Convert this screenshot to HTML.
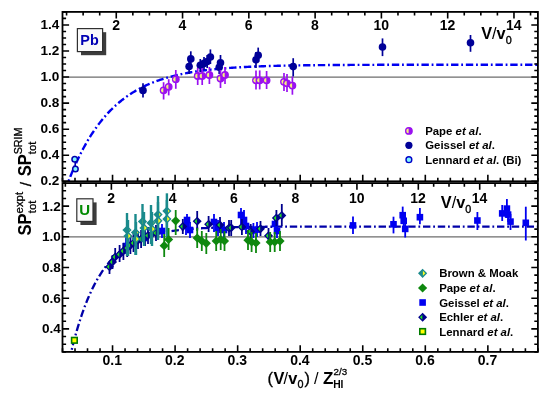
<!DOCTYPE html>
<html><head><meta charset="utf-8"><style>html,body{margin:0;padding:0;background:#fff;}svg{display:block;}</style></head>
<body>
<svg width="550" height="395" viewBox="0 0 550 395">
<rect width="550" height="395" fill="#fff"/>
<defs><clipPath id="ct"><rect x="62.5" y="11.9" width="475.4" height="169.4"/></clipPath><clipPath id="cb"><rect x="62.5" y="183.1" width="475.4" height="168.8"/></clipPath></defs>
<line x1="62.5" x2="537.9" y1="77.05" y2="77.05" stroke="#6c6c6c" stroke-width="1.15"/>
<line x1="62.5" x2="537.9" y1="236.81" y2="236.81" stroke="#6c6c6c" stroke-width="1.15"/>
<path d="M65.00,190.67 L65.95,188.04 L66.90,185.46 L67.85,182.94 L68.79,180.47 L69.74,178.05 L70.69,175.68 L71.64,173.36 L72.58,171.09 L73.53,168.87 L74.48,166.69 L75.43,164.56 L76.37,162.48 L77.32,160.43 L78.27,158.43 L79.22,156.48 L80.17,154.56 L81.11,152.68 L82.06,150.84 L83.01,149.04 L83.96,147.28 L84.90,145.56 L85.85,143.87 L86.80,142.21 L87.75,140.59 L88.69,139.01 L89.64,137.46 L90.59,135.94 L91.54,134.45 L92.49,132.99 L93.43,131.56 L94.38,130.17 L95.33,128.80 L96.28,127.46 L97.22,126.15 L98.17,124.87 L99.12,123.61 L100.07,122.38 L101.01,121.17 L101.96,119.99 L102.91,118.84 L103.86,117.71 L104.81,116.60 L105.75,115.52 L106.70,114.45 L107.65,113.42 L108.60,112.40 L109.54,111.40 L110.49,110.43 L111.44,109.47 L112.39,108.54 L113.33,107.62 L114.28,106.72 L115.23,105.85 L116.18,104.99 L117.13,104.14 L118.07,103.32 L119.02,102.51 L119.97,101.72 L120.92,100.95 L121.86,100.19 L122.81,99.45 L123.76,98.73 L124.71,98.02 L125.65,97.32 L126.60,96.64 L127.55,95.97 L128.50,95.32 L129.45,94.68 L130.39,94.05 L131.34,93.44 L132.29,92.84 L133.24,92.25 L134.18,91.68 L135.13,91.11 L136.08,90.56 L137.03,90.02 L137.97,89.49 L138.92,88.97 L139.87,88.47 L140.82,87.97 L141.77,87.48 L142.71,87.01 L143.66,86.54 L144.61,86.09 L145.56,85.64 L146.50,85.20 L147.45,84.77 L148.40,84.35 L149.35,83.94 L150.29,83.54 L151.24,83.15 L152.19,82.76 L153.14,82.39 L154.09,82.02 L155.03,81.65 L155.98,81.30 L156.93,80.95 L157.88,80.61 L158.82,80.28 L159.77,79.96 L160.72,79.64 L161.67,79.33 L162.61,79.02 L163.56,78.72 L164.51,78.43 L165.46,78.14 L166.41,77.86 L167.35,77.59 L168.30,77.32 L169.25,77.05 L170.20,76.80 L171.14,76.54 L172.09,76.30 L173.04,76.05 L173.99,75.82 L174.93,75.58 L175.88,75.36 L176.83,75.13 L177.78,74.92 L178.73,74.70 L179.67,74.49 L180.62,74.29 L181.57,74.09 L182.52,73.89 L183.46,73.70 L184.41,73.51 L185.36,73.33 L186.31,73.15 L187.25,72.97 L188.20,72.80 L189.15,72.63 L190.10,72.47 L191.05,72.30 L191.99,72.15 L192.94,71.99 L193.89,71.84 L194.84,71.69 L195.78,71.54 L196.73,71.40 L197.68,71.26 L198.63,71.12 L199.57,70.99 L200.52,70.86 L201.47,70.73 L202.42,70.60 L203.37,70.48 L204.31,70.36 L205.26,70.24 L206.21,70.13 L207.16,70.01 L208.10,69.90 L209.05,69.79 L210.00,69.69 L210.95,69.58 L211.89,69.48 L212.84,69.38 L213.79,69.28 L214.74,69.19 L215.69,69.09 L216.63,69.00 L217.58,68.91 L218.53,68.82 L219.48,68.74 L220.42,68.65 L221.37,68.57 L222.32,68.49 L223.27,68.41 L224.21,68.33 L225.16,68.26 L226.11,68.18 L227.06,68.11 L228.00,68.04 L228.95,67.97 L229.90,67.90 L230.85,67.84 L231.80,67.77 L232.74,67.71 L233.69,67.64 L234.64,67.58 L235.59,67.52 L236.53,67.46 L237.48,67.41 L238.43,67.35 L239.38,67.29 L240.32,67.24 L241.27,67.19 L242.22,67.14 L243.17,67.08 L244.12,67.04 L245.06,66.99 L246.01,66.94 L246.96,66.89 L247.91,66.85 L248.85,66.80 L249.80,66.76 L250.75,66.72 L251.70,66.67 L252.64,66.63 L253.59,66.59 L254.54,66.55 L255.49,66.51 L256.44,66.48 L257.38,66.44 L258.33,66.40 L259.28,66.37 L260.23,66.33 L261.17,66.30 L262.12,66.27 L263.07,66.23 L264.02,66.20 L264.96,66.17 L265.91,66.14 L266.86,66.11 L267.81,66.08 L268.76,66.05 L269.70,66.02 L270.65,66.00 L271.60,65.97 L272.55,65.94 L273.49,65.92 L274.44,65.89 L275.39,65.87 L276.34,65.84 L277.28,65.82 L278.23,65.80 L279.18,65.77 L280.13,65.75 L281.08,65.73 L282.02,65.71 L282.97,65.69 L283.92,65.67 L284.87,65.65 L285.81,65.63 L286.76,65.61 L287.71,65.59 L288.66,65.57 L289.60,65.55 L290.55,65.53 L291.50,65.52 L292.45,65.50 L293.40,65.48 L294.34,65.47 L295.29,65.45 L296.24,65.44 L297.19,65.42 L298.13,65.41 L299.08,65.39 L300.03,65.38 L300.98,65.36 L301.92,65.35 L302.87,65.33 L303.82,65.32 L304.77,65.31 L305.72,65.30 L306.66,65.28 L307.61,65.27 L308.56,65.26 L309.51,65.25 L310.45,65.24 L311.40,65.23 L312.35,65.22 L313.30,65.20 L314.24,65.19 L315.19,65.18 L316.14,65.17 L317.09,65.16 L318.04,65.15 L318.98,65.15 L319.93,65.14 L320.88,65.13 L321.83,65.12 L322.77,65.11 L323.72,65.10 L324.67,65.09 L325.62,65.08 L326.56,65.08 L327.51,65.07 L328.46,65.06 L329.41,65.05 L330.36,65.05 L331.30,65.04 L332.25,65.03 L333.20,65.03 L334.15,65.02 L335.09,65.01 L336.04,65.01 L336.99,65.00 L337.94,64.99 L338.88,64.99 L339.83,64.98 L340.78,64.98 L341.73,64.97 L342.68,64.97 L343.62,64.96 L344.57,64.95 L345.52,64.95 L346.47,64.94 L347.41,64.94 L348.36,64.93 L349.31,64.93 L350.26,64.92 L351.20,64.92 L352.15,64.92 L353.10,64.91 L354.05,64.91 L355.00,64.90 L355.94,64.90 L356.89,64.89 L357.84,64.89 L358.79,64.89 L359.73,64.88 L360.68,64.88 L361.63,64.88 L362.58,64.87 L363.52,64.87 L364.47,64.87 L365.42,64.86 L366.37,64.86 L367.32,64.86 L368.26,64.85 L369.21,64.85 L370.16,64.85 L371.11,64.84 L372.05,64.84 L373.00,64.84 L373.95,64.84 L374.90,64.83 L375.84,64.83 L376.79,64.83 L377.74,64.82 L378.69,64.82 L379.64,64.82 L380.58,64.82 L381.53,64.81 L382.48,64.81 L383.43,64.81 L384.37,64.81 L385.32,64.81 L386.27,64.80 L387.22,64.80 L388.16,64.80 L389.11,64.80 L390.06,64.80 L391.01,64.79 L391.96,64.79 L392.90,64.79 L393.85,64.79 L394.80,64.79 L395.75,64.79 L396.69,64.78 L397.64,64.78 L398.59,64.78 L399.54,64.78 L400.48,64.78 L401.43,64.78 L402.38,64.77 L403.33,64.77 L404.28,64.77 L405.22,64.77 L406.17,64.77 L407.12,64.77 L408.07,64.77 L409.01,64.77 L409.96,64.76 L410.91,64.76 L411.86,64.76 L412.80,64.76 L413.75,64.76 L414.70,64.76 L415.65,64.76 L416.60,64.76 L417.54,64.75 L418.49,64.75 L419.44,64.75 L420.39,64.75 L421.33,64.75 L422.28,64.75 L423.23,64.75 L424.18,64.75 L425.12,64.75 L426.07,64.75 L427.02,64.75 L427.97,64.74 L428.92,64.74 L429.86,64.74 L430.81,64.74 L431.76,64.74 L432.71,64.74 L433.65,64.74 L434.60,64.74 L435.55,64.74 L436.50,64.74 L437.44,64.74 L438.39,64.74 L439.34,64.74 L440.29,64.74 L441.24,64.73 L442.18,64.73 L443.13,64.73 L444.08,64.73 L445.03,64.73 L445.97,64.73 L446.92,64.73 L447.87,64.73 L448.82,64.73 L449.76,64.73 L450.71,64.73 L451.66,64.73 L452.61,64.73 L453.56,64.73 L454.50,64.73 L455.45,64.73 L456.40,64.73 L457.35,64.73 L458.29,64.73 L459.24,64.73 L460.19,64.72 L461.14,64.72 L462.08,64.72 L463.03,64.72 L463.98,64.72 L464.93,64.72 L465.88,64.72 L466.82,64.72 L467.77,64.72 L468.72,64.72 L469.67,64.72 L470.61,64.72 L471.56,64.72 L472.51,64.72 L473.46,64.72 L474.40,64.72 L475.35,64.72 L476.30,64.72 L477.25,64.72 L478.20,64.72 L479.14,64.72 L480.09,64.72 L481.04,64.72 L481.99,64.72 L482.93,64.72 L483.88,64.72 L484.83,64.72 L485.78,64.72 L486.72,64.72 L487.67,64.72 L488.62,64.72 L489.57,64.72 L490.52,64.72 L491.46,64.72 L492.41,64.72 L493.36,64.71 L494.31,64.71 L495.25,64.71 L496.20,64.71 L497.15,64.71 L498.10,64.71 L499.04,64.71 L499.99,64.71 L500.94,64.71 L501.89,64.71 L502.84,64.71 L503.78,64.71 L504.73,64.71 L505.68,64.71 L506.63,64.71 L507.57,64.71 L508.52,64.71 L509.47,64.71 L510.42,64.71 L511.36,64.71 L512.31,64.71 L513.26,64.71 L514.21,64.71 L515.16,64.71 L516.10,64.71 L517.05,64.71 L518.00,64.71 L518.95,64.71 L519.89,64.71 L520.84,64.71 L521.79,64.71 L522.74,64.71 L523.68,64.71 L524.63,64.71 L525.58,64.71 L526.53,64.71 L527.48,64.71 L528.42,64.71 L529.37,64.71 L530.32,64.71 L531.27,64.71 L532.21,64.71 L533.16,64.71 L534.11,64.71 L535.06,64.71 L536.00,64.71 L536.95,64.71 L537.90,64.71" fill="none" stroke="#0000f0" stroke-width="2.4" stroke-dasharray="7.4,2.8,1.8,2.8" clip-path="url(#ct)"/>
<path d="M69.38,359.63 L70.32,355.56 L71.26,351.61 L72.20,347.78 L73.14,344.08 L74.08,340.48 L75.01,336.99 L75.95,333.61 L76.89,330.34 L77.83,327.16 L78.77,324.08 L79.71,321.10 L80.65,318.21 L81.59,315.40 L82.53,312.68 L83.46,310.05 L84.40,307.49 L85.34,305.02 L86.28,302.62 L87.22,300.29 L88.16,298.03 L89.10,295.85 L90.04,293.73 L90.98,291.67 L91.91,289.68 L92.85,287.75 L93.79,285.88 L94.73,284.06 L95.67,282.30 L96.61,280.60 L97.55,278.94 L98.49,277.34 L99.43,275.79 L100.37,274.28 L101.30,272.82 L102.24,271.40 L103.18,270.03 L104.12,268.70 L105.06,267.41 L106.00,266.16 L106.94,264.95 L107.88,263.78 L108.82,262.64 L109.75,261.53 L110.69,260.46 L111.63,259.43 L112.57,258.42 L113.51,257.45 L114.45,256.50 L115.39,255.59 L116.33,254.70 L117.27,253.84 L118.20,253.00 L119.14,252.19 L120.08,251.41 L121.02,250.65 L121.96,249.91 L122.90,249.20 L123.84,248.51 L124.78,247.83 L125.72,247.18 L126.65,246.55 L127.59,245.94 L128.53,245.35 L129.47,244.77 L130.41,244.22 L131.35,243.68 L132.29,243.15 L133.23,242.65 L134.17,242.15 L135.10,241.68 L136.04,241.21 L136.98,240.77 L137.92,240.33 L138.86,239.91 L139.80,239.50 L140.74,239.11 L141.68,238.72 L142.62,238.35 L143.56,237.99 L144.49,237.64 L145.43,237.30 L146.37,236.97 L147.31,236.66 L148.25,236.35 L149.19,236.05 L150.13,235.76 L151.07,235.48 L152.01,235.20 L152.94,234.94 L153.88,234.68 L154.82,234.44 L155.76,234.19 L156.70,233.96 L157.64,233.74 L158.58,233.52 L159.52,233.30 L160.46,233.10 L161.39,232.90 L162.33,232.70 L163.27,232.52 L164.21,232.33 L165.15,232.16 L166.09,231.99 L167.03,231.82 L167.97,231.66 L168.91,231.50 L169.84,231.35 L170.78,231.21 L171.72,231.07 L172.66,230.93 L173.60,230.79 L174.54,230.67 L175.48,230.54 L176.42,230.42 L177.36,230.30 L178.30,230.19 L179.23,230.08 L180.17,229.97 L181.11,229.86 L182.05,229.76 L182.99,229.67 L183.93,229.57 L184.87,229.48 L185.81,229.39 L186.75,229.30 L187.68,229.22 L188.62,229.14 L189.56,229.06 L190.50,228.98 L191.44,228.91 L192.38,228.84 L193.32,228.77 L194.26,228.70 L195.20,228.64 L196.13,228.57 L197.07,228.51 L198.01,228.45 L198.95,228.40 L199.89,228.34 L200.83,228.29 L201.77,228.23 L202.71,228.18 L203.65,228.13 L204.58,228.08 L205.52,228.04 L206.46,227.99 L207.40,227.95 L208.34,227.91 L209.28,227.87 L210.22,227.83 L211.16,227.79 L212.10,227.75 L213.03,227.72 L213.97,227.68 L214.91,227.65 L215.85,227.61 L216.79,227.58 L217.73,227.55 L218.67,227.52 L219.61,227.49 L220.55,227.46 L221.49,227.44 L222.42,227.41 L223.36,227.38 L224.30,227.36 L225.24,227.33 L226.18,227.31 L227.12,227.29 L228.06,227.27 L229.00,227.25 L229.94,227.22 L230.87,227.20 L231.81,227.18 L232.75,227.17 L233.69,227.15 L234.63,227.13 L235.57,227.11 L236.51,227.10 L237.45,227.08 L238.39,227.06 L239.32,227.05 L240.26,227.03 L241.20,227.02 L242.14,227.01 L243.08,226.99 L244.02,226.98 L244.96,226.97 L245.90,226.96 L246.84,226.94 L247.77,226.93 L248.71,226.92 L249.65,226.91 L250.59,226.90 L251.53,226.89 L252.47,226.88 L253.41,226.87 L254.35,226.86 L255.29,226.85 L256.23,226.84 L257.16,226.84 L258.10,226.83 L259.04,226.82 L259.98,226.81 L260.92,226.80 L261.86,226.80 L262.80,226.79 L263.74,226.78 L264.68,226.78 L265.61,226.77 L266.55,226.76 L267.49,226.76 L268.43,226.75 L269.37,226.75 L270.31,226.74 L271.25,226.74 L272.19,226.73 L273.13,226.73 L274.06,226.72 L275.00,226.72 L275.94,226.71 L276.88,226.71 L277.82,226.70 L278.76,226.70 L279.70,226.70 L280.64,226.69 L281.58,226.69 L282.51,226.68 L283.45,226.68 L284.39,226.68 L285.33,226.67 L286.27,226.67 L287.21,226.67 L288.15,226.67 L289.09,226.66 L290.03,226.66 L290.97,226.66 L291.90,226.65 L292.84,226.65 L293.78,226.65 L294.72,226.65 L295.66,226.64 L296.60,226.64 L297.54,226.64 L298.48,226.64 L299.42,226.64 L300.35,226.63 L301.29,226.63 L302.23,226.63 L303.17,226.63 L304.11,226.63 L305.05,226.62 L305.99,226.62 L306.93,226.62 L307.87,226.62 L308.80,226.62 L309.74,226.62 L310.68,226.62 L311.62,226.61 L312.56,226.61 L313.50,226.61 L314.44,226.61 L315.38,226.61 L316.32,226.61 L317.25,226.61 L318.19,226.61 L319.13,226.60 L320.07,226.60 L321.01,226.60 L321.95,226.60 L322.89,226.60 L323.83,226.60 L324.77,226.60 L325.70,226.60 L326.64,226.60 L327.58,226.60 L328.52,226.60 L329.46,226.59 L330.40,226.59 L331.34,226.59 L332.28,226.59 L333.22,226.59 L334.16,226.59 L335.09,226.59 L336.03,226.59 L336.97,226.59 L337.91,226.59 L338.85,226.59 L339.79,226.59 L340.73,226.59 L341.67,226.59 L342.61,226.59 L343.54,226.59 L344.48,226.58 L345.42,226.58 L346.36,226.58 L347.30,226.58 L348.24,226.58 L349.18,226.58 L350.12,226.58 L351.06,226.58 L351.99,226.58 L352.93,226.58 L353.87,226.58 L354.81,226.58 L355.75,226.58 L356.69,226.58 L357.63,226.58 L358.57,226.58 L359.51,226.58 L360.44,226.58 L361.38,226.58 L362.32,226.58 L363.26,226.58 L364.20,226.58 L365.14,226.58 L366.08,226.58 L367.02,226.58 L367.96,226.58 L368.90,226.58 L369.83,226.58 L370.77,226.58 L371.71,226.58 L372.65,226.58 L373.59,226.58 L374.53,226.58 L375.47,226.58 L376.41,226.58 L377.35,226.57 L378.28,226.57 L379.22,226.57 L380.16,226.57 L381.10,226.57 L382.04,226.57 L382.98,226.57 L383.92,226.57 L384.86,226.57 L385.80,226.57 L386.73,226.57 L387.67,226.57 L388.61,226.57 L389.55,226.57 L390.49,226.57 L391.43,226.57 L392.37,226.57 L393.31,226.57 L394.25,226.57 L395.18,226.57 L396.12,226.57 L397.06,226.57 L398.00,226.57 L398.94,226.57 L399.88,226.57 L400.82,226.57 L401.76,226.57 L402.70,226.57 L403.63,226.57 L404.57,226.57 L405.51,226.57 L406.45,226.57 L407.39,226.57 L408.33,226.57 L409.27,226.57 L410.21,226.57 L411.15,226.57 L412.09,226.57 L413.02,226.57 L413.96,226.57 L414.90,226.57 L415.84,226.57 L416.78,226.57 L417.72,226.57 L418.66,226.57 L419.60,226.57 L420.54,226.57 L421.47,226.57 L422.41,226.57 L423.35,226.57 L424.29,226.57 L425.23,226.57 L426.17,226.57 L427.11,226.57 L428.05,226.57 L428.99,226.57 L429.92,226.57 L430.86,226.57 L431.80,226.57 L432.74,226.57 L433.68,226.57 L434.62,226.57 L435.56,226.57 L436.50,226.57 L437.44,226.57 L438.37,226.57 L439.31,226.57 L440.25,226.57 L441.19,226.57 L442.13,226.57 L443.07,226.57 L444.01,226.57 L444.95,226.57 L445.89,226.57 L446.83,226.57 L447.76,226.57 L448.70,226.57 L449.64,226.57 L450.58,226.57 L451.52,226.57 L452.46,226.57 L453.40,226.57 L454.34,226.57 L455.28,226.57 L456.21,226.57 L457.15,226.57 L458.09,226.57 L459.03,226.57 L459.97,226.57 L460.91,226.57 L461.85,226.57 L462.79,226.57 L463.73,226.57 L464.66,226.57 L465.60,226.57 L466.54,226.57 L467.48,226.57 L468.42,226.57 L469.36,226.57 L470.30,226.57 L471.24,226.57 L472.18,226.57 L473.11,226.57 L474.05,226.57 L474.99,226.57 L475.93,226.57 L476.87,226.57 L477.81,226.57 L478.75,226.57 L479.69,226.57 L480.63,226.57 L481.57,226.57 L482.50,226.57 L483.44,226.57 L484.38,226.57 L485.32,226.57 L486.26,226.57 L487.20,226.57 L488.14,226.57 L489.08,226.57 L490.02,226.57 L490.95,226.57 L491.89,226.57 L492.83,226.57 L493.77,226.57 L494.71,226.57 L495.65,226.57 L496.59,226.57 L497.53,226.57 L498.47,226.57 L499.40,226.57 L500.34,226.57 L501.28,226.57 L502.22,226.57 L503.16,226.57 L504.10,226.57 L505.04,226.57 L505.98,226.57 L506.92,226.57 L507.85,226.57 L508.79,226.57 L509.73,226.57 L510.67,226.57 L511.61,226.57 L512.55,226.57 L513.49,226.57 L514.43,226.57 L515.37,226.57 L516.30,226.57 L517.24,226.57 L518.18,226.57 L519.12,226.57 L520.06,226.57 L521.00,226.57 L521.94,226.57 L522.88,226.57 L523.82,226.57 L524.76,226.57 L525.69,226.57 L526.63,226.57 L527.57,226.57 L528.51,226.57 L529.45,226.57 L530.39,226.57 L531.33,226.57 L532.27,226.57 L533.21,226.57 L534.14,226.57 L535.08,226.57 L536.02,226.57 L536.96,226.57 L537.90,226.57" fill="none" stroke="#0000a8" stroke-width="2.3" stroke-dasharray="7.4,2.8,1.8,2.8" clip-path="url(#cb)"/>
<line x1="143.0" x2="143.0" y1="83.3" y2="97.4" stroke="#000098" stroke-width="1.7"/>
<circle cx="143" cy="90.4" r="3.8" fill="#000098"/>
<line x1="190.8" x2="190.8" y1="51.3" y2="66.0" stroke="#000098" stroke-width="1.7"/>
<circle cx="190.8" cy="58.9" r="3.8" fill="#000098"/>
<line x1="189.1" x2="189.1" y1="60.0" y2="74.0" stroke="#000098" stroke-width="1.7"/>
<circle cx="189.1" cy="66.5" r="3.8" fill="#000098"/>
<line x1="200.3" x2="200.3" y1="59.0" y2="72.0" stroke="#000098" stroke-width="1.7"/>
<circle cx="200.3" cy="65.3" r="3.8" fill="#000098"/>
<line x1="204.0" x2="204.0" y1="57.0" y2="70.0" stroke="#000098" stroke-width="1.7"/>
<circle cx="204" cy="63.4" r="3.8" fill="#000098"/>
<line x1="207.2" x2="207.2" y1="55.0" y2="68.0" stroke="#000098" stroke-width="1.7"/>
<circle cx="207.2" cy="61.5" r="3.8" fill="#000098"/>
<line x1="210.4" x2="210.4" y1="49.4" y2="64.0" stroke="#000098" stroke-width="1.7"/>
<circle cx="210.4" cy="57" r="3.8" fill="#000098"/>
<line x1="220.5" x2="220.5" y1="55.0" y2="70.0" stroke="#000098" stroke-width="1.7"/>
<circle cx="220.5" cy="62.7" r="3.8" fill="#000098"/>
<line x1="219.2" x2="219.2" y1="60.0" y2="74.0" stroke="#000098" stroke-width="1.7"/>
<circle cx="219.2" cy="67.2" r="3.8" fill="#000098"/>
<line x1="258.2" x2="258.2" y1="47.6" y2="62.0" stroke="#000098" stroke-width="1.7"/>
<circle cx="258.2" cy="55.2" r="3.8" fill="#000098"/>
<line x1="256.0" x2="256.0" y1="52.0" y2="68.0" stroke="#000098" stroke-width="1.7"/>
<circle cx="256" cy="59.7" r="3.8" fill="#000098"/>
<line x1="293.2" x2="293.2" y1="58.2" y2="76.5" stroke="#000098" stroke-width="1.7"/>
<circle cx="293.2" cy="66.6" r="3.8" fill="#000098"/>
<line x1="382.5" x2="382.5" y1="38.4" y2="56.1" stroke="#000098" stroke-width="1.7"/>
<circle cx="382.5" cy="47" r="3.8" fill="#000098"/>
<line x1="470.5" x2="470.5" y1="35.0" y2="51.8" stroke="#000098" stroke-width="1.7"/>
<circle cx="470.5" cy="42.7" r="3.8" fill="#000098"/>
<line x1="163.6" x2="163.6" y1="82.2" y2="99.5" stroke="#9a10f0" stroke-width="1.7"/>
<circle cx="163.6" cy="90.3" r="3.3" fill="#9a10f0" stroke="#9a10f0" stroke-width="1.2"/>
<path d="M163.29999999999998,88.0 A2.3,2.3 0 0 0 163.29999999999998,92.6 Z" fill="#f6f07c"/>
<line x1="168.7" x2="168.7" y1="79.2" y2="95.4" stroke="#9a10f0" stroke-width="1.7"/>
<circle cx="168.7" cy="86.8" r="3.3" fill="#9a10f0" stroke="#9a10f0" stroke-width="1.2"/>
<path d="M168.39999999999998,84.5 A2.3,2.3 0 0 0 168.39999999999998,89.1 Z" fill="#f6f07c"/>
<line x1="175.8" x2="175.8" y1="70.0" y2="88.8" stroke="#9a10f0" stroke-width="1.7"/>
<circle cx="175.8" cy="79.2" r="3.3" fill="#9a10f0" stroke="#9a10f0" stroke-width="1.2"/>
<path d="M175.5,76.9 A2.3,2.3 0 0 0 175.5,81.5 Z" fill="#f6f07c"/>
<line x1="197.7" x2="197.7" y1="68.0" y2="85.0" stroke="#9a10f0" stroke-width="1.7"/>
<circle cx="197.7" cy="76" r="3.3" fill="#9a10f0" stroke="#9a10f0" stroke-width="1.2"/>
<path d="M197.39999999999998,73.7 A2.3,2.3 0 0 0 197.39999999999998,78.3 Z" fill="#f6f07c"/>
<line x1="202.2" x2="202.2" y1="68.0" y2="85.0" stroke="#9a10f0" stroke-width="1.7"/>
<circle cx="202.2" cy="76" r="3.3" fill="#9a10f0" stroke="#9a10f0" stroke-width="1.2"/>
<path d="M201.89999999999998,73.7 A2.3,2.3 0 0 0 201.89999999999998,78.3 Z" fill="#f6f07c"/>
<line x1="209.4" x2="209.4" y1="67.0" y2="84.0" stroke="#9a10f0" stroke-width="1.7"/>
<circle cx="209.4" cy="75" r="3.3" fill="#9a10f0" stroke="#9a10f0" stroke-width="1.2"/>
<path d="M209.1,72.7 A2.3,2.3 0 0 0 209.1,77.3 Z" fill="#f6f07c"/>
<line x1="220.5" x2="220.5" y1="70.0" y2="88.0" stroke="#9a10f0" stroke-width="1.7"/>
<circle cx="220.5" cy="78.5" r="3.3" fill="#9a10f0" stroke="#9a10f0" stroke-width="1.2"/>
<path d="M220.2,76.2 A2.3,2.3 0 0 0 220.2,80.8 Z" fill="#f6f07c"/>
<line x1="225.0" x2="225.0" y1="67.0" y2="84.0" stroke="#9a10f0" stroke-width="1.7"/>
<circle cx="225" cy="75" r="3.3" fill="#9a10f0" stroke="#9a10f0" stroke-width="1.2"/>
<path d="M224.7,72.7 A2.3,2.3 0 0 0 224.7,77.3 Z" fill="#f6f07c"/>
<line x1="256.0" x2="256.0" y1="70.4" y2="89.4" stroke="#9a10f0" stroke-width="1.7"/>
<circle cx="256" cy="80.3" r="3.3" fill="#9a10f0" stroke="#9a10f0" stroke-width="1.2"/>
<path d="M255.7,78.0 A2.3,2.3 0 0 0 255.7,82.6 Z" fill="#f6f07c"/>
<line x1="259.7" x2="259.7" y1="70.4" y2="89.4" stroke="#9a10f0" stroke-width="1.7"/>
<circle cx="259.7" cy="80.3" r="3.3" fill="#9a10f0" stroke="#9a10f0" stroke-width="1.2"/>
<path d="M259.4,78.0 A2.3,2.3 0 0 0 259.4,82.6 Z" fill="#f6f07c"/>
<line x1="266.6" x2="266.6" y1="71.0" y2="89.0" stroke="#9a10f0" stroke-width="1.7"/>
<circle cx="266.6" cy="80.3" r="3.3" fill="#9a10f0" stroke="#9a10f0" stroke-width="1.2"/>
<path d="M266.3,78.0 A2.3,2.3 0 0 0 266.3,82.6 Z" fill="#f6f07c"/>
<line x1="284.0" x2="284.0" y1="73.0" y2="91.0" stroke="#9a10f0" stroke-width="1.7"/>
<circle cx="284" cy="81.8" r="3.3" fill="#9a10f0" stroke="#9a10f0" stroke-width="1.2"/>
<path d="M283.7,79.5 A2.3,2.3 0 0 0 283.7,84.1 Z" fill="#f6f07c"/>
<line x1="287.0" x2="287.0" y1="74.0" y2="92.0" stroke="#9a10f0" stroke-width="1.7"/>
<circle cx="287" cy="83.3" r="3.3" fill="#9a10f0" stroke="#9a10f0" stroke-width="1.2"/>
<path d="M286.7,81.0 A2.3,2.3 0 0 0 286.7,85.6 Z" fill="#f6f07c"/>
<line x1="292.4" x2="292.4" y1="76.5" y2="94.7" stroke="#9a10f0" stroke-width="1.7"/>
<circle cx="292.4" cy="85.6" r="3.3" fill="#9a10f0" stroke="#9a10f0" stroke-width="1.2"/>
<path d="M292.09999999999997,83.3 A2.3,2.3 0 0 0 292.09999999999997,87.89999999999999 Z" fill="#f6f07c"/>
<line x1="75.2" x2="75.2" y1="159.0" y2="169.0" stroke="#0000b0" stroke-width="1.6"/>
<circle cx="74.7" cy="159.3" r="2.75" fill="#80f4ff" stroke="#0000b0" stroke-width="1.5"/>
<circle cx="75.4" cy="169.1" r="2.75" fill="#80f4ff" stroke="#0000b0" stroke-width="1.5"/>
<line x1="126.0" x2="126.0" y1="238.0" y2="254.0" stroke="#0000f0" stroke-width="1.8"/>
<rect x="122.70" y="242.70" width="6.6" height="6.6" fill="#0000f0"/>
<line x1="144.0" x2="144.0" y1="230.0" y2="246.0" stroke="#0000f0" stroke-width="1.8"/>
<rect x="140.70" y="234.70" width="6.6" height="6.6" fill="#0000f0"/>
<line x1="162.0" x2="162.0" y1="224.0" y2="238.0" stroke="#0000f0" stroke-width="1.8"/>
<rect x="158.70" y="227.70" width="6.6" height="6.6" fill="#0000f0"/>
<line x1="186.0" x2="186.0" y1="217.0" y2="235.0" stroke="#0000f0" stroke-width="1.8"/>
<rect x="182.70" y="222.70" width="6.6" height="6.6" fill="#0000f0"/>
<line x1="190.0" x2="190.0" y1="222.0" y2="238.0" stroke="#0000f0" stroke-width="1.8"/>
<rect x="186.70" y="226.70" width="6.6" height="6.6" fill="#0000f0"/>
<line x1="187.0" x2="187.0" y1="214.0" y2="228.0" stroke="#0000f0" stroke-width="1.8"/>
<rect x="183.70" y="216.70" width="6.6" height="6.6" fill="#0000f0"/>
<line x1="214.0" x2="214.0" y1="214.0" y2="232.0" stroke="#0000f0" stroke-width="1.8"/>
<rect x="210.70" y="218.70" width="6.6" height="6.6" fill="#0000f0"/>
<line x1="218.0" x2="218.0" y1="220.0" y2="236.0" stroke="#0000f0" stroke-width="1.8"/>
<rect x="214.70" y="224.70" width="6.6" height="6.6" fill="#0000f0"/>
<line x1="224.0" x2="224.0" y1="222.0" y2="238.0" stroke="#0000f0" stroke-width="1.8"/>
<rect x="220.70" y="226.70" width="6.6" height="6.6" fill="#0000f0"/>
<line x1="241.0" x2="241.0" y1="208.0" y2="224.0" stroke="#0000f0" stroke-width="1.8"/>
<rect x="237.70" y="211.70" width="6.6" height="6.6" fill="#0000f0"/>
<line x1="244.0" x2="244.0" y1="210.0" y2="230.0" stroke="#0000f0" stroke-width="1.8"/>
<rect x="240.70" y="216.70" width="6.6" height="6.6" fill="#0000f0"/>
<line x1="246.0" x2="246.0" y1="218.0" y2="234.0" stroke="#0000f0" stroke-width="1.8"/>
<rect x="242.70" y="222.70" width="6.6" height="6.6" fill="#0000f0"/>
<line x1="253.4" x2="253.4" y1="223.0" y2="238.0" stroke="#0000f0" stroke-width="1.8"/>
<rect x="250.10" y="227.20" width="6.6" height="6.6" fill="#0000f0"/>
<line x1="257.0" x2="257.0" y1="222.0" y2="237.0" stroke="#0000f0" stroke-width="1.8"/>
<rect x="253.70" y="226.30" width="6.6" height="6.6" fill="#0000f0"/>
<line x1="275.0" x2="275.0" y1="216.0" y2="232.0" stroke="#0000f0" stroke-width="1.8"/>
<rect x="271.70" y="220.70" width="6.6" height="6.6" fill="#0000f0"/>
<line x1="277.0" x2="277.0" y1="223.0" y2="238.0" stroke="#0000f0" stroke-width="1.8"/>
<rect x="273.70" y="227.70" width="6.6" height="6.6" fill="#0000f0"/>
<line x1="353.0" x2="353.0" y1="216.6" y2="234.0" stroke="#0000f0" stroke-width="1.8"/>
<rect x="349.70" y="222.10" width="6.6" height="6.6" fill="#0000f0"/>
<line x1="393.5" x2="393.5" y1="216.7" y2="233.4" stroke="#0000f0" stroke-width="1.8"/>
<rect x="390.20" y="221.00" width="6.6" height="6.6" fill="#0000f0"/>
<line x1="402.7" x2="402.7" y1="206.6" y2="222.0" stroke="#0000f0" stroke-width="1.8"/>
<rect x="399.40" y="211.90" width="6.6" height="6.6" fill="#0000f0"/>
<line x1="403.7" x2="403.7" y1="213.0" y2="228.0" stroke="#0000f0" stroke-width="1.8"/>
<rect x="400.40" y="217.50" width="6.6" height="6.6" fill="#0000f0"/>
<line x1="405.2" x2="405.2" y1="221.0" y2="237.5" stroke="#0000f0" stroke-width="1.8"/>
<rect x="401.90" y="225.60" width="6.6" height="6.6" fill="#0000f0"/>
<line x1="419.9" x2="419.9" y1="208.1" y2="224.3" stroke="#0000f0" stroke-width="1.8"/>
<rect x="416.60" y="213.90" width="6.6" height="6.6" fill="#0000f0"/>
<line x1="477.4" x2="477.4" y1="212.0" y2="230.0" stroke="#0000f0" stroke-width="1.8"/>
<rect x="474.10" y="217.20" width="6.6" height="6.6" fill="#0000f0"/>
<line x1="502.2" x2="502.2" y1="205.0" y2="221.0" stroke="#0000f0" stroke-width="1.8"/>
<rect x="498.90" y="210.10" width="6.6" height="6.6" fill="#0000f0"/>
<line x1="506.9" x2="506.9" y1="199.0" y2="218.0" stroke="#0000f0" stroke-width="1.8"/>
<rect x="503.60" y="205.30" width="6.6" height="6.6" fill="#0000f0"/>
<line x1="508.1" x2="508.1" y1="206.0" y2="222.0" stroke="#0000f0" stroke-width="1.8"/>
<rect x="504.80" y="211.30" width="6.6" height="6.6" fill="#0000f0"/>
<line x1="510.5" x2="510.5" y1="214.0" y2="230.0" stroke="#0000f0" stroke-width="1.8"/>
<rect x="507.20" y="218.30" width="6.6" height="6.6" fill="#0000f0"/>
<line x1="525.8" x2="525.8" y1="206.7" y2="240.5" stroke="#0000f0" stroke-width="1.8"/>
<rect x="522.50" y="219.50" width="6.6" height="6.6" fill="#0000f0"/>
<line x1="109.5" x2="109.5" y1="262.0" y2="274.0" stroke="#00008c" stroke-width="1.8"/>
<path d="M109.50,262.30 L114.00,266.80 L109.50,271.30 L105.00,266.80 Z" fill="#00008c"/>
<path d="M109.20,264.30 L106.80,266.80 L109.20,269.30 Z" fill="#20e020"/>
<line x1="112.5" x2="112.5" y1="255.0" y2="269.0" stroke="#00008c" stroke-width="1.8"/>
<path d="M112.50,257.50 L117.00,262.00 L112.50,266.50 L108.00,262.00 Z" fill="#00008c"/>
<path d="M112.20,259.50 L109.80,262.00 L112.20,264.50 Z" fill="#20e020"/>
<line x1="115.2" x2="115.2" y1="248.0" y2="263.0" stroke="#00008c" stroke-width="1.8"/>
<path d="M115.20,252.50 L119.70,257.00 L115.20,261.50 L110.70,257.00 Z" fill="#00008c"/>
<path d="M114.90,254.50 L112.50,257.00 L114.90,259.50 Z" fill="#20e020"/>
<line x1="119.6" x2="119.6" y1="245.0" y2="262.0" stroke="#00008c" stroke-width="1.8"/>
<path d="M119.60,250.00 L124.10,254.50 L119.60,259.00 L115.10,254.50 Z" fill="#00008c"/>
<path d="M119.30,252.00 L116.90,254.50 L119.30,257.00 Z" fill="#20e020"/>
<line x1="123.4" x2="123.4" y1="243.0" y2="260.0" stroke="#00008c" stroke-width="1.8"/>
<path d="M123.40,246.50 L127.90,251.00 L123.40,255.50 L118.90,251.00 Z" fill="#00008c"/>
<path d="M123.10,248.50 L120.70,251.00 L123.10,253.50 Z" fill="#20e020"/>
<line x1="127.2" x2="127.2" y1="240.0" y2="257.0" stroke="#00008c" stroke-width="1.8"/>
<path d="M127.20,243.50 L131.70,248.00 L127.20,252.50 L122.70,248.00 Z" fill="#00008c"/>
<path d="M126.90,245.50 L124.50,248.00 L126.90,250.50 Z" fill="#20e020"/>
<line x1="130.4" x2="130.4" y1="236.0" y2="254.0" stroke="#00008c" stroke-width="1.8"/>
<path d="M130.40,240.80 L134.90,245.30 L130.40,249.80 L125.90,245.30 Z" fill="#00008c"/>
<path d="M130.10,242.80 L127.70,245.30 L130.10,247.80 Z" fill="#20e020"/>
<line x1="133.5" x2="133.5" y1="234.0" y2="252.0" stroke="#00008c" stroke-width="1.8"/>
<path d="M133.50,238.50 L138.00,243.00 L133.50,247.50 L129.00,243.00 Z" fill="#00008c"/>
<path d="M133.20,240.50 L130.80,243.00 L133.20,245.50 Z" fill="#20e020"/>
<line x1="138.0" x2="138.0" y1="231.0" y2="249.0" stroke="#00008c" stroke-width="1.8"/>
<path d="M138.00,235.70 L142.50,240.20 L138.00,244.70 L133.50,240.20 Z" fill="#00008c"/>
<path d="M137.70,237.70 L135.30,240.20 L137.70,242.70 Z" fill="#20e020"/>
<line x1="141.1" x2="141.1" y1="230.0" y2="248.0" stroke="#00008c" stroke-width="1.8"/>
<path d="M141.10,234.50 L145.60,239.00 L141.10,243.50 L136.60,239.00 Z" fill="#00008c"/>
<path d="M140.80,236.50 L138.40,239.00 L140.80,241.50 Z" fill="#20e020"/>
<line x1="145.0" x2="145.0" y1="228.0" y2="246.0" stroke="#00008c" stroke-width="1.8"/>
<path d="M145.00,232.50 L149.50,237.00 L145.00,241.50 L140.50,237.00 Z" fill="#00008c"/>
<path d="M144.70,234.50 L142.30,237.00 L144.70,239.50 Z" fill="#20e020"/>
<line x1="148.0" x2="148.0" y1="227.0" y2="244.0" stroke="#00008c" stroke-width="1.8"/>
<path d="M148.00,231.00 L152.50,235.50 L148.00,240.00 L143.50,235.50 Z" fill="#00008c"/>
<path d="M147.70,233.00 L145.30,235.50 L147.70,238.00 Z" fill="#20e020"/>
<line x1="152.0" x2="152.0" y1="226.0" y2="242.0" stroke="#00008c" stroke-width="1.8"/>
<path d="M152.00,229.50 L156.50,234.00 L152.00,238.50 L147.50,234.00 Z" fill="#00008c"/>
<path d="M151.70,231.50 L149.30,234.00 L151.70,236.50 Z" fill="#20e020"/>
<line x1="156.0" x2="156.0" y1="225.0" y2="241.0" stroke="#00008c" stroke-width="1.8"/>
<path d="M156.00,228.50 L160.50,233.00 L156.00,237.50 L151.50,233.00 Z" fill="#00008c"/>
<path d="M155.70,230.50 L153.30,233.00 L155.70,235.50 Z" fill="#20e020"/>
<line x1="182.8" x2="182.8" y1="219.0" y2="234.0" stroke="#00008c" stroke-width="1.8"/>
<path d="M182.80,222.10 L187.30,226.60 L182.80,231.10 L178.30,226.60 Z" fill="#00008c"/>
<path d="M182.50,224.10 L180.10,226.60 L182.50,229.10 Z" fill="#20e020"/>
<line x1="197.2" x2="197.2" y1="211.0" y2="231.0" stroke="#00008c" stroke-width="1.8"/>
<path d="M197.20,216.80 L201.70,221.30 L197.20,225.80 L192.70,221.30 Z" fill="#00008c"/>
<path d="M196.90,218.80 L194.50,221.30 L196.90,223.80 Z" fill="#20e020"/>
<line x1="208.6" x2="208.6" y1="216.0" y2="232.0" stroke="#00008c" stroke-width="1.8"/>
<path d="M208.60,219.80 L213.10,224.30 L208.60,228.80 L204.10,224.30 Z" fill="#00008c"/>
<path d="M208.30,221.80 L205.90,224.30 L208.30,226.80 Z" fill="#20e020"/>
<line x1="220.0" x2="220.0" y1="217.0" y2="233.0" stroke="#00008c" stroke-width="1.8"/>
<path d="M220.00,220.50 L224.50,225.00 L220.00,229.50 L215.50,225.00 Z" fill="#00008c"/>
<path d="M219.70,222.50 L217.30,225.00 L219.70,227.50 Z" fill="#20e020"/>
<line x1="229.0" x2="229.0" y1="220.0" y2="236.0" stroke="#00008c" stroke-width="1.8"/>
<path d="M229.00,223.50 L233.50,228.00 L229.00,232.50 L224.50,228.00 Z" fill="#00008c"/>
<path d="M228.70,225.50 L226.30,228.00 L228.70,230.50 Z" fill="#20e020"/>
<line x1="231.2" x2="231.2" y1="220.0" y2="236.0" stroke="#00008c" stroke-width="1.8"/>
<path d="M231.20,223.30 L235.70,227.80 L231.20,232.30 L226.70,227.80 Z" fill="#00008c"/>
<path d="M230.90,225.30 L228.50,227.80 L230.90,230.30 Z" fill="#20e020"/>
<line x1="241.9" x2="241.9" y1="219.0" y2="235.0" stroke="#00008c" stroke-width="1.8"/>
<path d="M241.90,222.40 L246.40,226.90 L241.90,231.40 L237.40,226.90 Z" fill="#00008c"/>
<path d="M241.60,224.40 L239.20,226.90 L241.60,229.40 Z" fill="#20e020"/>
<line x1="250.7" x2="250.7" y1="224.0" y2="239.0" stroke="#00008c" stroke-width="1.8"/>
<path d="M250.70,226.90 L255.20,231.40 L250.70,235.90 L246.20,231.40 Z" fill="#00008c"/>
<path d="M250.40,228.90 L248.00,231.40 L250.40,233.90 Z" fill="#20e020"/>
<line x1="260.5" x2="260.5" y1="221.0" y2="236.0" stroke="#00008c" stroke-width="1.8"/>
<path d="M260.50,224.20 L265.00,228.70 L260.50,233.20 L256.00,228.70 Z" fill="#00008c"/>
<path d="M260.20,226.20 L257.80,228.70 L260.20,231.20 Z" fill="#20e020"/>
<line x1="268.5" x2="268.5" y1="228.0" y2="243.0" stroke="#00008c" stroke-width="1.8"/>
<path d="M268.50,231.30 L273.00,235.80 L268.50,240.30 L264.00,235.80 Z" fill="#00008c"/>
<path d="M268.20,233.30 L265.80,235.80 L268.20,238.30 Z" fill="#20e020"/>
<line x1="276.4" x2="276.4" y1="210.0" y2="226.0" stroke="#00008c" stroke-width="1.8"/>
<path d="M276.40,213.60 L280.90,218.10 L276.40,222.60 L271.90,218.10 Z" fill="#00008c"/>
<path d="M276.10,215.60 L273.70,218.10 L276.10,220.60 Z" fill="#20e020"/>
<line x1="281.8" x2="281.8" y1="204.0" y2="226.0" stroke="#00008c" stroke-width="1.8"/>
<path d="M281.80,210.90 L286.30,215.40 L281.80,219.90 L277.30,215.40 Z" fill="#00008c"/>
<path d="M281.50,212.90 L279.10,215.40 L281.50,217.90 Z" fill="#20e020"/>
<line x1="127.0" x2="127.0" y1="213.0" y2="256.0" stroke="#1a8a8c" stroke-width="2.4"/>
<path d="M127.00,225.40 L131.60,230.00 L127.00,234.60 L122.40,230.00 Z" fill="#1a8a8c"/>
<path d="M127.30,227.50 L129.70,230.00 L127.30,232.50 Z" fill="#ffff20"/>
<line x1="128.0" x2="128.0" y1="220.0" y2="256.0" stroke="#1a8a8c" stroke-width="2.4"/>
<path d="M128.00,231.40 L132.60,236.00 L128.00,240.60 L123.40,236.00 Z" fill="#1a8a8c"/>
<path d="M128.30,233.50 L130.70,236.00 L128.30,238.50 Z" fill="#ffff20"/>
<line x1="135.5" x2="135.5" y1="214.0" y2="255.0" stroke="#1a8a8c" stroke-width="2.4"/>
<path d="M135.50,227.90 L140.10,232.50 L135.50,237.10 L130.90,232.50 Z" fill="#1a8a8c"/>
<path d="M135.80,230.00 L138.20,232.50 L135.80,235.00 Z" fill="#ffff20"/>
<line x1="136.0" x2="136.0" y1="222.0" y2="255.0" stroke="#1a8a8c" stroke-width="2.4"/>
<path d="M136.00,234.40 L140.60,239.00 L136.00,243.60 L131.40,239.00 Z" fill="#1a8a8c"/>
<path d="M136.30,236.50 L138.70,239.00 L136.30,241.50 Z" fill="#ffff20"/>
<line x1="142.5" x2="142.5" y1="204.0" y2="242.0" stroke="#1a8a8c" stroke-width="2.4"/>
<path d="M142.50,217.00 L147.10,221.60 L142.50,226.20 L137.90,221.60 Z" fill="#1a8a8c"/>
<path d="M142.80,219.10 L145.20,221.60 L142.80,224.10 Z" fill="#ffff20"/>
<line x1="144.0" x2="144.0" y1="212.0" y2="246.0" stroke="#1a8a8c" stroke-width="2.4"/>
<path d="M144.00,223.40 L148.60,228.00 L144.00,232.60 L139.40,228.00 Z" fill="#1a8a8c"/>
<path d="M144.30,225.50 L146.70,228.00 L144.30,230.50 Z" fill="#ffff20"/>
<line x1="151.0" x2="151.0" y1="205.0" y2="244.0" stroke="#1a8a8c" stroke-width="2.4"/>
<path d="M151.00,218.40 L155.60,223.00 L151.00,227.60 L146.40,223.00 Z" fill="#1a8a8c"/>
<path d="M151.30,220.50 L153.70,223.00 L151.30,225.50 Z" fill="#ffff20"/>
<line x1="152.0" x2="152.0" y1="212.0" y2="246.0" stroke="#1a8a8c" stroke-width="2.4"/>
<path d="M152.00,224.40 L156.60,229.00 L152.00,233.60 L147.40,229.00 Z" fill="#1a8a8c"/>
<path d="M152.30,226.50 L154.70,229.00 L152.30,231.50 Z" fill="#ffff20"/>
<line x1="158.0" x2="158.0" y1="196.0" y2="238.0" stroke="#1a8a8c" stroke-width="2.4"/>
<path d="M158.00,210.00 L162.60,214.60 L158.00,219.20 L153.40,214.60 Z" fill="#1a8a8c"/>
<path d="M158.30,212.10 L160.70,214.60 L158.30,217.10 Z" fill="#ffff20"/>
<line x1="158.0" x2="158.0" y1="202.0" y2="240.0" stroke="#1a8a8c" stroke-width="2.4"/>
<path d="M158.00,216.20 L162.60,220.80 L158.00,225.40 L153.40,220.80 Z" fill="#1a8a8c"/>
<path d="M158.30,218.30 L160.70,220.80 L158.30,223.30 Z" fill="#ffff20"/>
<line x1="166.9" x2="166.9" y1="193.3" y2="232.0" stroke="#1a8a8c" stroke-width="2.4"/>
<path d="M166.90,206.40 L171.50,211.00 L166.90,215.60 L162.30,211.00 Z" fill="#1a8a8c"/>
<path d="M167.20,208.50 L169.60,211.00 L167.20,213.50 Z" fill="#ffff20"/>
<line x1="166.9" x2="166.9" y1="200.0" y2="237.0" stroke="#1a8a8c" stroke-width="2.4"/>
<path d="M166.90,214.40 L171.50,219.00 L166.90,223.60 L162.30,219.00 Z" fill="#1a8a8c"/>
<path d="M167.20,216.50 L169.60,219.00 L167.20,221.50 Z" fill="#ffff20"/>
<line x1="164.2" x2="164.2" y1="234.0" y2="257.0" stroke="#0e880e" stroke-width="1.8"/>
<path d="M164.20,241.10 L168.80,245.70 L164.20,250.30 L159.60,245.70 Z" fill="#0e880e"/>
<line x1="168.6" x2="168.6" y1="228.0" y2="250.0" stroke="#0e880e" stroke-width="1.8"/>
<path d="M168.60,234.90 L173.20,239.50 L168.60,244.10 L164.00,239.50 Z" fill="#0e880e"/>
<line x1="175.7" x2="175.7" y1="210.0" y2="235.0" stroke="#0e880e" stroke-width="1.8"/>
<path d="M175.70,216.20 L180.30,220.80 L175.70,225.40 L171.10,220.80 Z" fill="#0e880e"/>
<line x1="197.2" x2="197.2" y1="228.0" y2="248.0" stroke="#0e880e" stroke-width="1.8"/>
<path d="M197.20,233.40 L201.80,238.00 L197.20,242.60 L192.60,238.00 Z" fill="#0e880e"/>
<line x1="201.8" x2="201.8" y1="231.0" y2="251.0" stroke="#0e880e" stroke-width="1.8"/>
<path d="M201.80,236.40 L206.40,241.00 L201.80,245.60 L197.20,241.00 Z" fill="#0e880e"/>
<line x1="206.3" x2="206.3" y1="233.0" y2="254.0" stroke="#0e880e" stroke-width="1.8"/>
<path d="M206.30,238.70 L210.90,243.30 L206.30,247.90 L201.70,243.30 Z" fill="#0e880e"/>
<line x1="216.2" x2="216.2" y1="231.0" y2="251.0" stroke="#0e880e" stroke-width="1.8"/>
<path d="M216.20,236.40 L220.80,241.00 L216.20,245.60 L211.60,241.00 Z" fill="#0e880e"/>
<line x1="220.7" x2="220.7" y1="229.0" y2="250.0" stroke="#0e880e" stroke-width="1.8"/>
<path d="M220.70,234.90 L225.30,239.50 L220.70,244.10 L216.10,239.50 Z" fill="#0e880e"/>
<line x1="224.5" x2="224.5" y1="231.0" y2="251.0" stroke="#0e880e" stroke-width="1.8"/>
<path d="M224.50,236.40 L229.10,241.00 L224.50,245.60 L219.90,241.00 Z" fill="#0e880e"/>
<line x1="248.0" x2="248.0" y1="230.0" y2="250.0" stroke="#0e880e" stroke-width="1.8"/>
<path d="M248.00,235.60 L252.60,240.20 L248.00,244.80 L243.40,240.20 Z" fill="#0e880e"/>
<line x1="251.6" x2="251.6" y1="232.0" y2="252.0" stroke="#0e880e" stroke-width="1.8"/>
<path d="M251.60,237.40 L256.20,242.00 L251.60,246.60 L247.00,242.00 Z" fill="#0e880e"/>
<line x1="256.0" x2="256.0" y1="233.0" y2="253.0" stroke="#0e880e" stroke-width="1.8"/>
<path d="M256.00,238.30 L260.60,242.90 L256.00,247.50 L251.40,242.90 Z" fill="#0e880e"/>
<line x1="270.2" x2="270.2" y1="232.0" y2="252.0" stroke="#0e880e" stroke-width="1.8"/>
<path d="M270.20,237.40 L274.80,242.00 L270.20,246.60 L265.60,242.00 Z" fill="#0e880e"/>
<line x1="274.7" x2="274.7" y1="232.0" y2="252.0" stroke="#0e880e" stroke-width="1.8"/>
<path d="M274.70,237.40 L279.30,242.00 L274.70,246.60 L270.10,242.00 Z" fill="#0e880e"/>
<line x1="280.0" x2="280.0" y1="231.0" y2="251.0" stroke="#0e880e" stroke-width="1.8"/>
<path d="M280.00,236.50 L284.60,241.10 L280.00,245.70 L275.40,241.10 Z" fill="#0e880e"/>
<rect x="71.60000000000001" y="337.5" width="5.6" height="5.6" fill="#ffff00" stroke="#007a00" stroke-width="1.6"/>
<rect x="62.5" y="11.9" width="475.4" height="169.4" fill="none" stroke="#000" stroke-width="1.8"/>
<rect x="62.5" y="183.1" width="475.4" height="168.79999999999998" fill="none" stroke="#000" stroke-width="1.8"/>
<path d="M62.50,181.30L62.50,177.70M62.50,351.90L62.50,348.30M75.01,181.30L75.01,177.70M75.01,351.90L75.01,348.30M87.52,181.30L87.52,177.70M87.52,351.90L87.52,348.30M100.03,181.30L100.03,177.70M100.03,351.90L100.03,348.30M112.54,181.30L112.54,174.70M112.54,351.90L112.54,345.30M125.05,181.30L125.05,177.70M125.05,351.90L125.05,348.30M137.56,181.30L137.56,177.70M137.56,351.90L137.56,348.30M150.07,181.30L150.07,177.70M150.07,351.90L150.07,348.30M162.58,181.30L162.58,177.70M162.58,351.90L162.58,348.30M175.09,181.30L175.09,174.70M175.09,351.90L175.09,345.30M187.61,181.30L187.61,177.70M187.61,351.90L187.61,348.30M200.12,181.30L200.12,177.70M200.12,351.90L200.12,348.30M212.63,181.30L212.63,177.70M212.63,351.90L212.63,348.30M225.14,181.30L225.14,177.70M225.14,351.90L225.14,348.30M237.65,181.30L237.65,174.70M237.65,351.90L237.65,345.30M250.16,181.30L250.16,177.70M250.16,351.90L250.16,348.30M262.67,181.30L262.67,177.70M262.67,351.90L262.67,348.30M275.18,181.30L275.18,177.70M275.18,351.90L275.18,348.30M287.69,181.30L287.69,177.70M287.69,351.90L287.69,348.30M300.20,181.30L300.20,174.70M300.20,351.90L300.20,345.30M312.71,181.30L312.71,177.70M312.71,351.90L312.71,348.30M325.22,181.30L325.22,177.70M325.22,351.90L325.22,348.30M337.73,181.30L337.73,177.70M337.73,351.90L337.73,348.30M350.24,181.30L350.24,177.70M350.24,351.90L350.24,348.30M362.75,181.30L362.75,174.70M362.75,351.90L362.75,345.30M375.26,181.30L375.26,177.70M375.26,351.90L375.26,348.30M387.77,181.30L387.77,177.70M387.77,351.90L387.77,348.30M400.28,181.30L400.28,177.70M400.28,351.90L400.28,348.30M412.79,181.30L412.79,177.70M412.79,351.90L412.79,348.30M425.31,181.30L425.31,174.70M425.31,351.90L425.31,345.30M437.82,181.30L437.82,177.70M437.82,351.90L437.82,348.30M450.33,181.30L450.33,177.70M450.33,351.90L450.33,348.30M462.84,181.30L462.84,177.70M462.84,351.90L462.84,348.30M475.35,181.30L475.35,177.70M475.35,351.90L475.35,348.30M487.86,181.30L487.86,174.70M487.86,351.90L487.86,345.30M500.37,181.30L500.37,177.70M500.37,351.90L500.37,348.30M512.88,181.30L512.88,177.70M512.88,351.90L512.88,348.30M525.39,181.30L525.39,177.70M525.39,351.90L525.39,348.30M537.90,181.30L537.90,177.70M537.90,351.90L537.90,348.30M66.56,11.90L66.56,15.50M83.13,11.90L83.13,15.50M99.70,11.90L99.70,15.50M116.27,11.90L116.27,18.50M132.84,11.90L132.84,15.50M149.41,11.90L149.41,15.50M165.98,11.90L165.98,15.50M182.55,11.90L182.55,18.50M199.13,11.90L199.13,15.50M215.70,11.90L215.70,15.50M232.27,11.90L232.27,15.50M248.84,11.90L248.84,18.50M265.41,11.90L265.41,15.50M281.98,11.90L281.98,15.50M298.55,11.90L298.55,15.50M315.12,11.90L315.12,18.50M331.69,11.90L331.69,15.50M348.26,11.90L348.26,15.50M364.83,11.90L364.83,15.50M381.40,11.90L381.40,18.50M397.97,11.90L397.97,15.50M414.54,11.90L414.54,15.50M431.11,11.90L431.11,15.50M447.69,11.90L447.69,18.50M464.26,11.90L464.26,15.50M480.83,11.90L480.83,15.50M497.40,11.90L497.40,15.50M513.97,11.90L513.97,18.50M530.54,11.90L530.54,15.50M65.34,183.10L65.34,186.70M80.68,183.10L80.68,186.70M96.03,183.10L96.03,186.70M111.38,183.10L111.38,189.70M126.72,183.10L126.72,186.70M142.07,183.10L142.07,186.70M157.42,183.10L157.42,186.70M172.77,183.10L172.77,189.70M188.11,183.10L188.11,186.70M203.46,183.10L203.46,186.70M218.81,183.10L218.81,186.70M234.15,183.10L234.15,189.70M249.50,183.10L249.50,186.70M264.85,183.10L264.85,186.70M280.19,183.10L280.19,186.70M295.54,183.10L295.54,189.70M310.89,183.10L310.89,186.70M326.24,183.10L326.24,186.70M341.58,183.10L341.58,186.70M356.93,183.10L356.93,189.70M372.28,183.10L372.28,186.70M387.62,183.10L387.62,186.70M402.97,183.10L402.97,186.70M418.32,183.10L418.32,189.70M433.66,183.10L433.66,186.70M449.01,183.10L449.01,186.70M464.36,183.10L464.36,186.70M479.71,183.10L479.71,189.70M495.05,183.10L495.05,186.70M510.40,183.10L510.40,186.70M525.75,183.10L525.75,186.70M62.50,181.30L69.10,181.30M537.90,181.30L531.30,181.30M62.50,174.78L66.10,174.78M537.90,174.78L534.30,174.78M62.50,168.27L66.10,168.27M537.90,168.27L534.30,168.27M62.50,161.75L66.10,161.75M537.90,161.75L534.30,161.75M62.50,155.24L69.10,155.24M537.90,155.24L531.30,155.24M62.50,148.72L66.10,148.72M537.90,148.72L534.30,148.72M62.50,142.21L66.10,142.21M537.90,142.21L534.30,142.21M62.50,135.69L66.10,135.69M537.90,135.69L534.30,135.69M62.50,129.18L69.10,129.18M537.90,129.18L531.30,129.18M62.50,122.66L66.10,122.66M537.90,122.66L534.30,122.66M62.50,116.15L66.10,116.15M537.90,116.15L534.30,116.15M62.50,109.63L66.10,109.63M537.90,109.63L534.30,109.63M62.50,103.12L69.10,103.12M537.90,103.12L531.30,103.12M62.50,96.60L66.10,96.60M537.90,96.60L534.30,96.60M62.50,90.08L66.10,90.08M537.90,90.08L534.30,90.08M62.50,83.57L66.10,83.57M537.90,83.57L534.30,83.57M62.50,77.05L69.10,77.05M537.90,77.05L531.30,77.05M62.50,70.54L66.10,70.54M537.90,70.54L534.30,70.54M62.50,64.02L66.10,64.02M537.90,64.02L534.30,64.02M62.50,57.51L66.10,57.51M537.90,57.51L534.30,57.51M62.50,50.99L69.10,50.99M537.90,50.99L531.30,50.99M62.50,44.48L66.10,44.48M537.90,44.48L534.30,44.48M62.50,37.96L66.10,37.96M537.90,37.96L534.30,37.96M62.50,31.45L66.10,31.45M537.90,31.45L534.30,31.45M62.50,24.93L69.10,24.93M537.90,24.93L531.30,24.93M62.50,18.42L66.10,18.42M537.90,18.42L534.30,18.42M62.50,11.90L66.10,11.90M537.90,11.90L534.30,11.90M62.50,351.90L66.10,351.90M537.90,351.90L534.30,351.90M62.50,344.23L66.10,344.23M537.90,344.23L534.30,344.23M62.50,336.55L66.10,336.55M537.90,336.55L534.30,336.55M62.50,328.88L69.10,328.88M537.90,328.88L531.30,328.88M62.50,321.21L66.10,321.21M537.90,321.21L534.30,321.21M62.50,313.54L66.10,313.54M537.90,313.54L534.30,313.54M62.50,305.86L66.10,305.86M537.90,305.86L534.30,305.86M62.50,298.19L69.10,298.19M537.90,298.19L531.30,298.19M62.50,290.52L66.10,290.52M537.90,290.52L534.30,290.52M62.50,282.85L66.10,282.85M537.90,282.85L534.30,282.85M62.50,275.17L66.10,275.17M537.90,275.17L534.30,275.17M62.50,267.50L69.10,267.50M537.90,267.50L531.30,267.50M62.50,259.83L66.10,259.83M537.90,259.83L534.30,259.83M62.50,252.15L66.10,252.15M537.90,252.15L534.30,252.15M62.50,244.48L66.10,244.48M537.90,244.48L534.30,244.48M62.50,236.81L69.10,236.81M537.90,236.81L531.30,236.81M62.50,229.14L66.10,229.14M537.90,229.14L534.30,229.14M62.50,221.46L66.10,221.46M537.90,221.46L534.30,221.46M62.50,213.79L66.10,213.79M537.90,213.79L534.30,213.79M62.50,206.12L69.10,206.12M537.90,206.12L531.30,206.12M62.50,198.45L66.10,198.45M537.90,198.45L534.30,198.45M62.50,190.77L66.10,190.77M537.90,190.77L534.30,190.77M62.50,183.10L66.10,183.10M537.90,183.10L534.30,183.10" stroke="#000" stroke-width="1.6" fill="none"/>
<g font-family="'Liberation Sans', Arial, Helvetica, sans-serif" font-weight="bold" fill="#000">
<text x="59.3" y="28.83" font-size="13.6" text-anchor="end">1.4</text>
<text x="59.3" y="54.89" font-size="13.6" text-anchor="end">1.2</text>
<text x="59.3" y="80.95" font-size="13.6" text-anchor="end">1.0</text>
<text x="59.3" y="107.02" font-size="13.6" text-anchor="end">0.8</text>
<text x="59.3" y="133.08" font-size="13.6" text-anchor="end">0.6</text>
<text x="59.3" y="159.14" font-size="13.6" text-anchor="end">0.4</text>
<text x="59.3" y="185.20" font-size="13.6" text-anchor="end">0.2</text>
<text x="60.8" y="210.72" font-size="13.6" text-anchor="end">1.2</text>
<text x="60.8" y="241.41" font-size="13.6" text-anchor="end">1.0</text>
<text x="60.8" y="272.10" font-size="13.6" text-anchor="end">0.8</text>
<text x="60.8" y="302.79" font-size="13.6" text-anchor="end">0.6</text>
<text x="60.8" y="333.48" font-size="13.6" text-anchor="end">0.4</text>
<text x="112.24" y="364.9" font-size="14.0" text-anchor="middle">0.1</text>
<text x="174.79" y="364.9" font-size="14.0" text-anchor="middle">0.2</text>
<text x="237.35" y="364.9" font-size="14.0" text-anchor="middle">0.3</text>
<text x="299.90" y="364.9" font-size="14.0" text-anchor="middle">0.4</text>
<text x="362.45" y="364.9" font-size="14.0" text-anchor="middle">0.5</text>
<text x="425.01" y="364.9" font-size="14.0" text-anchor="middle">0.6</text>
<text x="487.56" y="364.9" font-size="14.0" text-anchor="middle">0.7</text>
<text x="116.07" y="30.2" font-size="14.0" text-anchor="middle">2</text>
<text x="182.35" y="30.2" font-size="14.0" text-anchor="middle">4</text>
<text x="248.64" y="30.2" font-size="14.0" text-anchor="middle">6</text>
<text x="314.92" y="30.2" font-size="14.0" text-anchor="middle">8</text>
<text x="381.20" y="30.2" font-size="14.0" text-anchor="middle">10</text>
<text x="447.49" y="30.2" font-size="14.0" text-anchor="middle">12</text>
<text x="513.77" y="30.2" font-size="14.0" text-anchor="middle">14</text>
<text x="111.18" y="202.9" font-size="14.0" text-anchor="middle">2</text>
<text x="172.57" y="202.9" font-size="14.0" text-anchor="middle">4</text>
<text x="233.95" y="202.9" font-size="14.0" text-anchor="middle">6</text>
<text x="295.34" y="202.9" font-size="14.0" text-anchor="middle">8</text>
<text x="356.73" y="202.9" font-size="14.0" text-anchor="middle">10</text>
<text x="418.12" y="202.9" font-size="14.0" text-anchor="middle">12</text>
<text x="479.51" y="202.9" font-size="14.0" text-anchor="middle">14</text>
</g>
<text y="38.5" font-family="'Liberation Sans', Arial, Helvetica, sans-serif" font-size="16.3" fill="#000"><tspan x="481.2" font-weight="bold">V</tspan><tspan>/</tspan><tspan font-weight="bold">v</tspan><tspan font-size="10.76" dy="5.38" stroke="#000" stroke-width="0.35">0</tspan></text>
<text y="207.8" font-family="'Liberation Sans', Arial, Helvetica, sans-serif" font-size="16.3" fill="#000"><tspan x="440.8" font-weight="bold">V</tspan><tspan>/</tspan><tspan font-weight="bold">v</tspan><tspan font-size="10.76" dy="5.38" stroke="#000" stroke-width="0.35">0</tspan></text>
<rect x="81.0" y="32.2" width="25.19999999999999" height="23.0" fill="#3c3c3c"/>
<rect x="77.4" y="28.6" width="25.19999999999999" height="23.0" fill="#fafafa" stroke="#303030" stroke-width="1.2"/>
<text transform="translate(80.3,44.8) scale(0.94,1)" font-family="'Liberation Sans', Arial, Helvetica, sans-serif" font-weight="bold" font-size="15.3" fill="#0000b4">Pb</text>
<rect x="80.39999999999999" y="202.4" width="16.200000000000003" height="22.599999999999994" fill="#3c3c3c"/>
<rect x="76.8" y="198.8" width="16.200000000000003" height="22.599999999999994" fill="#fafafa" stroke="#303030" stroke-width="1.2"/>
<text transform="translate(79.3,215.3) scale(1.0,1)" font-family="'Liberation Sans', Arial, Helvetica, sans-serif" font-weight="bold" font-size="15.0" fill="#008a00">U</text>
<g font-family="'Liberation Sans', Arial, Helvetica, sans-serif" font-weight="bold" font-size="11.4" fill="#000">
<circle cx="408.9" cy="130.9" r="3.3" fill="#9a10f0" stroke="#9a10f0" stroke-width="1.2"/>
<path d="M408.59999999999997,128.6 A2.3,2.3 0 0 0 408.59999999999997,133.20000000000002 Z" fill="#f6f07c"/>
<circle cx="408.9" cy="145.3" r="3.6" fill="#000098"/>
<circle cx="408.9" cy="159.7" r="2.9" fill="#80f4ff" stroke="#0000c8" stroke-width="1.4"/>
<text x="425.2" y="134.8">Pape <tspan font-style="italic">et al</tspan>.</text>
<text x="425.2" y="149.20000000000002">Geissel <tspan font-style="italic">et al</tspan>.</text>
<text x="425.2" y="163.6">Lennard <tspan font-style="italic">et al</tspan>. (Bi)</text>
<path d="M422.60,268.70 L427.20,273.30 L422.60,277.90 L418.00,273.30 Z" fill="#1a8a8c"/>
<path d="M422.90,270.80 L425.30,273.30 L422.90,275.80 Z" fill="#ffff20"/>
<path d="M422.60,283.40 L427.20,288.00 L422.60,292.60 L418.00,288.00 Z" fill="#0e880e"/>
<rect x="419.3" y="299.2" width="6.6" height="6.6" fill="#0000f0"/>
<path d="M422.60,312.80 L427.10,317.30 L422.60,321.80 L418.10,317.30 Z" fill="#00008c"/>
<path d="M422.30,314.80 L419.90,317.30 L422.30,319.80 Z" fill="#20e020"/>
<rect x="419.8" y="328.7" width="5.6" height="5.6" fill="#ffff00" stroke="#007a00" stroke-width="1.6"/>
<text x="439.2" y="277.3">Brown &amp; Moak</text>
<text x="439.2" y="292.0">Pape <tspan font-style="italic">et al</tspan>.</text>
<text x="439.2" y="306.5">Geissel <tspan font-style="italic">et al</tspan>.</text>
<text x="439.2" y="321.3">Echler <tspan font-style="italic">et al</tspan>.</text>
<text x="439.2" y="335.5">Lennard <tspan font-style="italic">et al</tspan>.</text>
</g>
<g font-family="'Liberation Sans', Arial, Helvetica, sans-serif" fill="#000" font-size="16.4">
<text x="267.4" y="383.6" stroke="#000" stroke-width="0.3">(</text>
<text x="273.6" y="383.6" font-weight="bold">V</text>
<text x="283.4" y="383.6">/</text>
<text x="288.2" y="383.6" font-weight="bold">v</text>
<text x="297.5" y="388.2" font-size="10.8" stroke="#000" stroke-width="0.35">0</text>
<text x="304.6" y="383.6" stroke="#000" stroke-width="0.3">)</text>
<text x="314.0" y="383.6">/</text>
<text x="322.9" y="383.6" font-weight="bold" font-size="17">Z</text>
<text x="333.2" y="388.4" font-weight="bold" font-size="10.3">HI</text>
<text x="333.5" y="374.6" font-size="9.8" stroke="#000" stroke-width="0.3">2/3</text>
</g>
<g font-family="'Liberation Sans', Arial, Helvetica, sans-serif" fill="#000">
<text transform="translate(31.3,235.6) rotate(-90) scale(0.92,1)" font-size="18.0" font-weight="bold">SP</text>
<text transform="translate(22.6,213.4) rotate(-90) scale(0.98,1)" font-size="11.6" font-weight="normal" stroke="#000" stroke-width="0.3">expt</text>
<text transform="translate(35.6,213.2) rotate(-90) scale(0.98,1)" font-size="11.6" font-weight="normal" stroke="#000" stroke-width="0.3">tot</text>
<text transform="translate(30.6,186.3) rotate(-90) scale(1.0,1)" font-size="15.5" font-weight="normal" stroke="#000" stroke-width="0.3">/</text>
<text transform="translate(31.3,176.3) rotate(-90) scale(0.92,1)" font-size="18.0" font-weight="bold">SP</text>
<text transform="translate(22.0,154.3) rotate(-90) scale(0.98,1)" font-size="10.9" font-weight="normal" stroke="#000" stroke-width="0.3">SRIM</text>
<text transform="translate(35.9,154.2) rotate(-90) scale(0.98,1)" font-size="11.6" font-weight="normal" stroke="#000" stroke-width="0.3">tot</text>
</g>
</svg>
</body></html>
